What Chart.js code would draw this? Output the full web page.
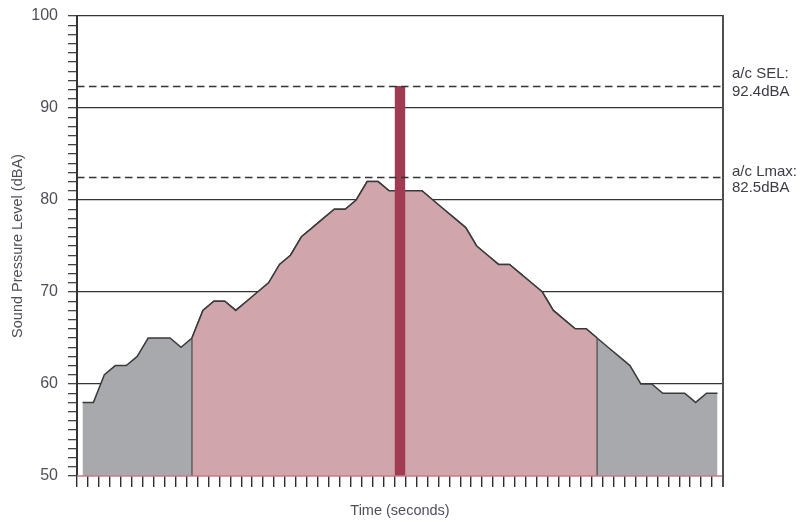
<!DOCTYPE html>
<html>
<head>
<meta charset="utf-8">
<script src="https://cdn.jsdelivr.net/npm/chart.js@4"></script>
<style>
  html, body { margin: 0; padding: 0; background: #fff; }
  #wrap { width: 808px; height: 522px; }
</style>
</head>
<body>
<div id="wrap"><canvas id="c" width="808" height="522"></canvas></div>
<script>
// Time categories, one per second of the measurement
const seconds = Array.from({ length: 59 }, (_, i) => String(i + 1));

// Sound pressure level per second (dBA)
const levels = [
  58, 58, 61, 62, 62, 63, 65, 65, 65, 64,
  65, 68, 69, 69, 68, 69, 70, 71, 73, 74,
  76, 77, 78, 79, 79, 80, 82, 82, 81, 81,
  81, 81, 80, 79, 78, 77, 75, 74, 73, 73,
  72, 71, 70, 68, 67, 66, 66, 65, 64, 63,
  62, 60, 60, 59, 59, 59, 58, 59, 59
];

// Aircraft event window (category indices) and its summary levels
const eventStart = 10;
const eventEnd = 47;
const selIndex = 29;
const SEL = 92.4;
const LMAX = 82.5;

// Y axis range and labelled ticks
const yMin = 50;
const yMax = 100;
const yLabelled = [50, 60, 70, 80, 90, 100];
const yGridLines = [60, 70, 80, 90, 100];

const eventLevels = levels.map((v, i) => (i >= eventStart && i <= eventEnd ? v : null));
const selBar = seconds.map((_, i) => (i === selIndex ? SEL : null));

const textColor = '#4f4f5a';
const lineColor = '#3a3a3a';

const overlay = {
  id: 'overlay',
  afterDatasetsDraw(chart) {
    const { ctx, chartArea: a, scales: { x, y } } = chart;
    ctx.save();

    // edges of the event window
    ctx.strokeStyle = '#4a4a4a';
    ctx.lineWidth = 1.2;
    [eventStart, eventEnd].forEach(i => {
      const px = x.getPixelForValue(i);
      ctx.beginPath();
      ctx.moveTo(px, y.getPixelForValue(levels[i]));
      ctx.lineTo(px, a.bottom);
      ctx.stroke();
    });

    // SEL and Lmax reference lines
    ctx.strokeStyle = '#333';
    ctx.lineWidth = 1.6;
    ctx.setLineDash([7.5, 4.5]);
    [SEL, LMAX].forEach(v => {
      const py = Math.round(y.getPixelForValue(v)) + 0.5;
      ctx.beginPath();
      ctx.moveTo(a.left, py);
      ctx.lineTo(a.right, py);
      ctx.stroke();
    });
    ctx.setLineDash([]);

    // time axis line
    ctx.strokeStyle = '#c77b8a';
    ctx.lineWidth = 1.6;
    ctx.beginPath();
    ctx.moveTo(a.left, a.bottom);
    ctx.lineTo(a.right, a.bottom);
    ctx.stroke();

    // right frame edge
    ctx.strokeStyle = '#505050';
    ctx.lineWidth = 2;
    ctx.beginPath();
    ctx.moveTo(a.right, a.top - 1);
    ctx.lineTo(a.right, a.bottom + 11);
    ctx.stroke();

    // annotations
    ctx.fillStyle = '#3c3c46';
    ctx.font = '15px "Liberation Sans", Arial, sans-serif';
    ctx.textAlign = 'left';
    ctx.textBaseline = 'middle';
    const tx = a.right + 9;
    const ySel = y.getPixelForValue(SEL);
    ctx.fillText('a/c SEL:', tx, ySel - 12);
    ctx.fillText(SEL.toFixed(1) + 'dBA', tx, ySel + 6);
    const yLmax = y.getPixelForValue(LMAX);
    ctx.fillText('a/c Lmax:', tx, yLmax - 5);
    ctx.fillText(LMAX.toFixed(1) + 'dBA', tx, yLmax + 11);

    ctx.restore();
  }
};

new Chart(document.getElementById('c'), {
  type: 'line',
  data: {
    labels: seconds,
    datasets: [
      {
        type: 'bar',
        data: selBar,
        backgroundColor: '#a03b54',
        borderWidth: 0,
        barPercentage: 1,
        categoryPercentage: 0.95,
        order: 0
      },
      {
        data: eventLevels,
        fill: 'start',
        backgroundColor: '#d0a6ac',
        borderColor: lineColor,
        borderWidth: 1.5,
        pointRadius: 0,
        tension: 0,
        spanGaps: false,
        order: 1
      },
      {
        data: levels,
        fill: 'start',
        backgroundColor: '#a8a9ac',
        borderColor: lineColor,
        borderWidth: 1.5,
        pointRadius: 0,
        tension: 0,
        order: 2
      }
    ]
  },
  options: {
    responsive: false,
    animation: false,
    devicePixelRatio: 1,
    layout: { padding: { left: 0, top: 16, right: 85, bottom: 0 } },
    plugins: {
      legend: { display: false },
      tooltip: { enabled: false }
    },
    scales: {
      x: {
        type: 'category',
        offset: true,
        grid: {
          offset: true,
          drawOnChartArea: false,
          drawTicks: true,
          tickLength: 11,
          color: '#333',
          tickColor: '#2e2e2e',
          lineWidth: 1.4
        },
        border: { display: false },
        ticks: { display: false, autoSkip: false },
        title: {
          display: true,
          text: 'Time (seconds)',
          color: textColor,
          font: { family: '"Liberation Sans", Arial, sans-serif', size: 14.5 },
          padding: { top: 0, bottom: 2 }
        },
        afterFit(s) { s.height = 46; s.paddingLeft = 0; s.paddingRight = 0; }
      },
      y: {
        min: yMin,
        max: yMax,
        ticks: {
          stepSize: 1,
          autoSkip: false,
          maxTicksLimit: 100,
          padding: 10,
          color: textColor,
          font: { family: '"Liberation Sans", Arial, sans-serif', size: 16 },
          callback: v => (yLabelled.includes(v) ? String(v) : '')
        },
        grid: {
          color: c => (yGridLines.includes(c.tick.value) ? '#333' : 'rgba(0,0,0,0)'),
          tickColor: '#444',
          lineWidth: 1.3,
          tickLength: 9
        },
        border: { display: true, color: '#333', width: 2 },
        title: {
          display: true,
          text: 'Sound Pressure Level (dBA)',
          color: textColor,
          font: { family: '"Liberation Sans", Arial, sans-serif', size: 14.5 },
          padding: { top: 9, bottom: 0 }
        },
        afterFit(s) { s.width = 77; s.paddingTop = 0; s.paddingBottom = 0; }
      }
    }
  },
  plugins: [overlay]
});
</script>
</body>
</html>
